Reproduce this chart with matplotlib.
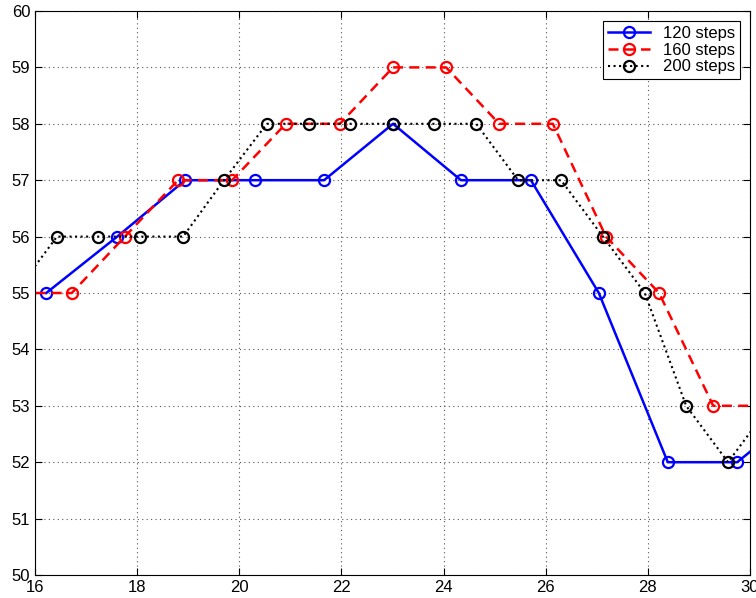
import matplotlib
matplotlib.use("Agg")
import matplotlib.pyplot as plt

plt.rcParams['font.family'] = ['Liberation Sans', 'DejaVu Sans']

x120 = [16.22, 17.61, 18.94, 20.31, 21.66, 23.01, 24.34, 25.71, 27.04, 28.39, 29.75, 31.10]
y120 = [55, 56, 57, 57, 57, 58, 57, 57, 55, 52, 52, 53]

x160 = [15.69, 16.72, 17.76, 18.80, 19.86, 20.91, 21.97, 23.01, 24.05, 25.09, 26.14, 27.18, 28.22, 29.28, 30.33]
y160 = [55, 55, 56, 57, 57, 58, 58, 59, 59, 58, 58, 56, 55, 53, 53]

x200 = [15.61, 16.43, 17.23, 18.06, 18.90, 19.70, 20.54, 21.37, 22.17, 23.01, 23.81, 24.64,
        25.46, 26.30, 27.12, 27.94, 28.75, 29.57, 30.39]
y200 = [55, 56, 56, 56, 56, 57, 58, 58, 58, 58, 58, 58, 57, 57, 56, 55, 53, 52, 53]

labels = ['120 steps', '160 steps', '200 steps']

fig = plt.figure(figsize=(7.56, 5.98), dpi=100)
ax = fig.add_axes([35/756, 1 - 575/598, 715/756, 564/598])

ax.plot(x120, y120, '-', color='#0000ff', lw=1.8, marker='o', ms=8, mfc='none', mew=1.6, label=labels[0])
ax.plot(x160, y160, '--', color='#ff0000', lw=1.8, marker='o', ms=8, mfc='none', mew=1.6,
        dashes=(4, 2.5), label=labels[1])
ax.plot(x200, y200, ':', color='black', lw=1.5, marker='o', ms=8, mfc='none', mew=1.6, label=labels[2])

ax.set_xlim(16, 30)
ax.set_ylim(50, 60)
ax.set_xticks(range(16, 31, 2))
ax.set_yticks(range(50, 61))
ax.grid(True, linestyle=(0, (1, 3)), color='#555555', lw=0.8)
ax.tick_params(direction='in', top=True, right=True, labelsize=12, length=5, colors='black')
for s in ax.spines.values():
    s.set_color('black')
    s.set_linewidth(0.8)

leg = ax.legend(loc='upper right', fontsize=12, fancybox=False, framealpha=1,
                edgecolor='black', borderaxespad=0.6, handlelength=2.5,
                labelspacing=0.1, borderpad=0.3)
leg.get_frame().set_linewidth(0.8)

fig.savefig('out.png', dpi=100)
